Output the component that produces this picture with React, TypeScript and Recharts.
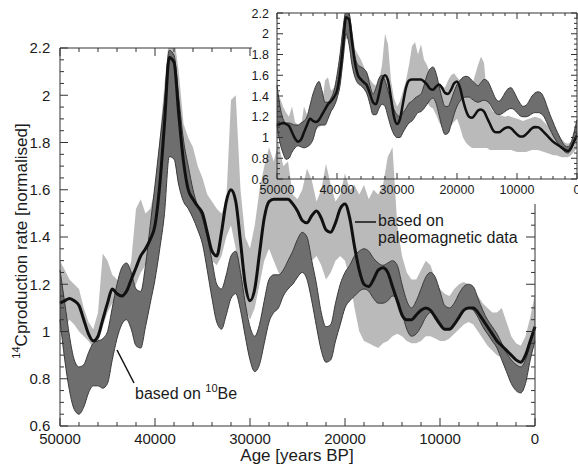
import { ComposedChart, Area, Line, XAxis, YAxis, ReferenceLine } from 'recharts';

const FONT = '"Liberation Sans", Arial, Helvetica, sans-serif';
const AXIS = '#333333';
const INK = '#1b1b1b';
const LIGHT = '#bababa';
const DARK = '#6e6e6e';
const DARK_EDGE = '#3a3a3a';

// years BP, sampled every 500 years
const ages = [
  50000, 49500, 49000, 48500, 48000, 47500, 47000, 46500, 46000, 45500,
  45000, 44500, 44000, 43500, 43000, 42500, 42000, 41500, 41000, 40500,
  40000, 39500, 39000, 38500, 38000, 37500, 37000, 36500, 36000, 35500,
  35000, 34500, 34000, 33500, 33000, 32500, 32000, 31500, 31000, 30500,
  30000, 29500, 29000, 28500, 28000, 27500, 27000, 26500, 26000, 25500,
  25000, 24500, 24000, 23500, 23000, 22500, 22000, 21500, 21000, 20500,
  20000, 19500, 19000, 18500, 18000, 17500, 17000, 16500, 16000, 15500,
  15000, 14500, 14000, 13500, 13000, 12500, 12000, 11500, 11000, 10500,
  10000, 9500, 9000, 8500, 8000, 7500, 7000, 6500, 6000, 5500,
  5000, 4500, 4000, 3500, 3000, 2500, 2000, 1500, 1000, 500,
  0,
];

// black curve: based on paleomagnetic data (same in both panels)
const paleoLine = [
  1.12, 1.13, 1.14, 1.13, 1.11, 1.05, 0.99, 0.96, 0.98, 1.05,
  1.12, 1.18, 1.16, 1.15, 1.17, 1.22, 1.27, 1.32, 1.35, 1.39,
  1.45, 1.62, 1.88, 2.16, 2.14, 1.92, 1.72, 1.60, 1.56, 1.53,
  1.50, 1.42, 1.34, 1.32, 1.42, 1.55, 1.60, 1.55, 1.38, 1.20,
  1.13, 1.18, 1.33, 1.48, 1.55, 1.56, 1.56, 1.56, 1.56, 1.54,
  1.51, 1.47, 1.46, 1.49, 1.51, 1.48, 1.43, 1.42, 1.46, 1.52,
  1.54, 1.48, 1.36, 1.26, 1.20, 1.19, 1.22, 1.26, 1.27, 1.25,
  1.19, 1.13, 1.07, 1.05, 1.05, 1.07, 1.09, 1.10, 1.09, 1.06,
  1.03, 1.01, 1.01, 1.03, 1.06, 1.09, 1.10, 1.10, 1.08, 1.05,
  1.02, 0.99, 0.96, 0.94, 0.92, 0.90, 0.88, 0.87, 0.90, 0.96,
  1.02,
];

// main panel, dark band: based on 10Be
const beLow = [
  1.05, 0.88, 0.75, 0.67, 0.65, 0.68, 0.74, 0.77, 0.77, 0.76,
  0.78, 0.88, 0.97, 1.03, 1.05, 1.01, 0.94, 0.93, 1.02, 1.12,
  1.22, 1.35, 1.50, 1.74, 1.73, 1.62, 1.55, 1.52, 1.48, 1.43,
  1.37, 1.26, 1.14, 1.04, 1.01, 1.07, 1.14, 1.16, 1.09, 0.98,
  0.88, 0.83, 0.86, 0.95, 1.04, 1.08, 1.10, 1.15, 1.18, 1.20,
  1.23, 1.25, 1.22, 1.13, 1.02, 0.92, 0.87, 0.88, 0.96, 1.03,
  1.10, 1.13, 1.15, 1.17, 1.18, 1.17, 1.14, 1.12, 1.12, 1.13,
  1.15, 1.14, 1.08, 1.01, 0.98, 0.99, 1.02, 1.06, 1.08, 1.07,
  1.04, 1.01, 1.01, 1.03, 1.06, 1.09, 1.10, 1.09, 1.06, 1.02,
  0.99, 0.96, 0.93, 0.88, 0.83, 0.78, 0.75, 0.74, 0.78, 0.88,
  0.96,
];
const beHigh = [
  1.26, 1.12, 0.98, 0.88, 0.85, 0.86, 0.91, 0.95, 0.96, 0.97,
  1.00, 1.10, 1.20, 1.27, 1.29, 1.25, 1.18, 1.17, 1.28, 1.45,
  1.62, 1.80, 1.98, 2.19, 2.17, 1.99, 1.81, 1.70, 1.60, 1.53,
  1.48, 1.40, 1.30, 1.20, 1.18, 1.24, 1.32, 1.34, 1.25, 1.12,
  1.02, 0.98, 1.03, 1.13, 1.22, 1.24, 1.24, 1.26, 1.30, 1.34,
  1.39, 1.42, 1.40, 1.30, 1.20, 1.08, 1.02, 1.03, 1.12, 1.20,
  1.25, 1.28, 1.32, 1.34, 1.35, 1.34, 1.31, 1.29, 1.28, 1.29,
  1.30, 1.28, 1.20, 1.13, 1.10, 1.13, 1.18, 1.23, 1.25, 1.23,
  1.17, 1.11, 1.10, 1.12, 1.16, 1.19, 1.20, 1.19, 1.14, 1.09,
  1.05, 1.02, 0.99, 0.95, 0.91, 0.88, 0.86, 0.85, 0.88, 0.95,
  1.02,
];

// main panel, light band: paleomagnetic uncertainty
const paleoLow = [
  1.00, 1.02, 1.05, 1.03, 1.00, 0.98, 0.96, 0.93, 0.95, 1.02,
  1.08, 1.12, 1.12, 1.10, 1.10, 1.14, 1.20, 1.25, 1.28, 1.33,
  1.38, 1.52, 1.70, 1.95, 1.95, 1.75, 1.60, 1.52, 1.48, 1.45,
  1.40, 1.35, 1.30, 1.28, 1.32, 1.40, 1.45, 1.35, 1.22, 1.10,
  1.05, 1.10, 1.20, 1.30, 1.35, 1.30, 1.25, 1.22, 1.28, 1.30,
  1.28, 1.25, 1.28, 1.30, 1.32, 1.28, 1.22, 1.25, 1.30, 1.32,
  1.30, 1.22, 1.10, 1.00, 0.96, 0.95, 0.94, 0.93, 0.95, 0.96,
  0.98, 0.99, 0.98, 0.96, 0.95, 0.95, 0.96, 0.98, 0.98, 0.97,
  0.96, 0.96, 0.97, 0.99, 1.01, 1.03, 1.04, 1.03, 1.00, 0.97,
  0.94, 0.92, 0.90, 0.89, 0.87, 0.85, 0.84, 0.84, 0.86, 0.92,
  0.97,
];
const paleoHigh = [
  1.30, 1.26, 1.22, 1.20, 1.18, 1.10, 1.04, 1.01, 1.08, 1.33,
  1.30, 1.24, 1.22, 1.20, 1.22, 1.30, 1.52, 1.56, 1.50, 1.52,
  1.60, 1.82, 2.05, 2.25, 2.25, 2.10, 1.88, 1.82, 1.78, 1.70,
  1.65, 1.58, 1.55, 1.52, 1.50, 1.55, 1.98, 2.00, 1.60, 1.40,
  1.35, 1.45, 1.60, 1.70, 1.78, 1.72, 1.80, 1.70, 1.72, 1.58,
  1.56, 1.60, 1.69, 1.64, 1.55, 1.60, 1.71, 1.62, 1.55, 1.58,
  1.67, 1.60, 1.62, 1.58, 1.62, 1.56, 1.60, 1.58, 1.62, 1.74,
  1.78, 1.45, 1.32, 1.25, 1.22, 1.22, 1.26, 1.30, 1.28, 1.22,
  1.18, 1.16, 1.15, 1.18, 1.20, 1.21, 1.20, 1.18, 1.15, 1.12,
  1.10, 1.08, 1.08, 1.10, 1.04, 0.98, 0.95, 0.94, 0.98, 1.06,
  1.16,
];

// inset panel, dark band
const insetBeLow = [
  1.12, 0.95, 0.85, 0.79, 0.80, 0.86, 0.90, 0.92, 0.91, 0.90,
  0.91, 0.93, 0.98, 1.08, 1.12, 1.12, 1.12, 1.18, 1.25, 1.30,
  1.38, 1.50, 1.75, 2.00, 1.90, 1.70, 1.58, 1.52, 1.50, 1.47,
  1.42, 1.32, 1.22, 1.22, 1.28, 1.32, 1.30, 1.20, 1.10, 1.03,
  1.00, 1.00, 1.05, 1.10, 1.14, 1.16, 1.20, 1.24, 1.25, 1.28,
  1.32, 1.36, 1.38, 1.33, 1.22, 1.10, 1.03, 1.04, 1.12, 1.22,
  1.30, 1.35, 1.38, 1.39, 1.39, 1.37, 1.35, 1.34, 1.35, 1.36,
  1.35, 1.32, 1.27, 1.23, 1.22, 1.23, 1.25, 1.27, 1.28, 1.27,
  1.24, 1.21, 1.20, 1.20, 1.21, 1.23, 1.24, 1.24, 1.23, 1.20,
  1.14, 1.08, 1.02, 0.97, 0.93, 0.89, 0.86, 0.85, 0.88, 0.95,
  1.04,
];
const insetBeHigh = [
  1.50, 1.30, 1.18, 1.14, 1.14, 1.13, 1.12, 1.12, 1.14, 1.16,
  1.20, 1.31, 1.42, 1.50, 1.54, 1.45, 1.34, 1.34, 1.38, 1.45,
  1.60, 1.80, 2.05, 2.22, 2.20, 2.00, 1.78, 1.70, 1.68, 1.66,
  1.62, 1.50, 1.42, 1.48, 1.57, 1.60, 1.55, 1.45, 1.35, 1.27,
  1.22, 1.20, 1.24, 1.28, 1.33, 1.35, 1.38, 1.40, 1.42, 1.50,
  1.60, 1.66, 1.68, 1.62, 1.50, 1.38, 1.30, 1.30, 1.36, 1.44,
  1.51, 1.55, 1.58, 1.59, 1.58, 1.55, 1.52, 1.50, 1.53, 1.56,
  1.55, 1.50, 1.43, 1.37, 1.35, 1.38, 1.43, 1.47, 1.48, 1.44,
  1.38, 1.33, 1.30, 1.31, 1.35, 1.40, 1.43, 1.44, 1.43, 1.38,
  1.30, 1.22, 1.15, 1.08, 1.02, 0.96, 0.92, 0.91, 0.95, 1.05,
  1.17,
];

// inset panel, light band
const insetPaleoLow = [
  1.00, 0.97, 0.95, 0.92, 0.90, 0.92, 0.93, 0.93, 0.93, 0.96,
  1.00, 1.03, 1.05, 1.08, 1.10, 1.12, 1.15, 1.20, 1.25, 1.30,
  1.35, 1.50, 1.70, 1.95, 1.95, 1.72, 1.60, 1.55, 1.50, 1.46,
  1.42, 1.36, 1.30, 1.28, 1.32, 1.40, 1.45, 1.35, 1.20, 1.08,
  1.02, 1.05, 1.15, 1.25, 1.30, 1.32, 1.35, 1.36, 1.35, 1.35,
  1.34, 1.30, 1.28, 1.22, 1.15, 1.10, 1.05, 1.08, 1.12, 1.15,
  1.18, 1.10, 1.00, 0.95, 0.92, 0.90, 0.90, 0.90, 0.90, 0.90,
  0.90, 0.88, 0.88, 0.88, 0.88, 0.88, 0.88, 0.88, 0.88, 0.87,
  0.86, 0.86, 0.86, 0.86, 0.87, 0.88, 0.88, 0.88, 0.87, 0.86,
  0.85, 0.84, 0.83, 0.83, 0.82, 0.81, 0.81, 0.81, 0.83, 0.86,
  0.90,
];
const insetPaleoHigh = [
  1.45, 1.38, 1.30, 1.24, 1.20, 1.30, 1.15, 1.12, 1.10, 1.30,
  1.22, 1.20, 1.20, 1.28, 1.32, 1.30, 1.55, 1.58, 1.45, 1.48,
  1.55, 1.80, 2.05, 2.22, 2.22, 2.05, 1.85, 1.80, 1.75, 1.68,
  1.62, 1.56, 1.52, 1.50, 1.55, 1.70, 2.00, 1.90, 1.55, 1.38,
  1.30, 1.35, 1.45, 1.55, 1.70, 1.88, 1.92, 1.80, 1.90, 1.75,
  1.70, 1.62, 1.58, 1.55, 1.52, 1.50, 1.48, 1.55, 1.60, 1.62,
  1.58, 1.55, 1.50, 1.45, 1.45, 1.50, 1.60, 1.70, 1.78, 1.72,
  1.40, 1.30, 1.25, 1.23, 1.22, 1.21, 1.20, 1.21, 1.20, 1.19,
  1.18, 1.17, 1.16, 1.17, 1.18, 1.19, 1.20, 1.19, 1.18, 1.15,
  1.12, 1.10, 1.08, 1.05, 1.02, 0.98, 0.95, 0.94, 0.96, 1.02,
  1.08,
];

const xTickLabels = [50000, 40000, 30000, 20000, 10000, 0];
const yTickLabels = [0.6, 0.8, 1, 1.2, 1.4, 1.6, 1.8, 2, 2.2];
// minor ticks every 2000 years and every 0.05
const xTicks = Array.from({ length: 26 }, (_, i) => i * 2000);
const yTicks = Array.from({ length: 33 }, (_, i) => Math.round((0.6 + i * 0.05) * 100) / 100);

const mainData = ages.map((age, i) => ({
  age,
  line: paleoLine[i],
  be: [beLow[i], beHigh[i]],
  paleo: [paleoLow[i], paleoHigh[i]],
}));

const insetData = ages.map((age, i) => ({
  age,
  line: paleoLine[i],
  be: [insetBeLow[i], insetBeHigh[i]],
  paleo: [insetPaleoLow[i], insetPaleoHigh[i]],
}));

type Side = 'left' | 'right' | 'top' | 'bottom';

const isMajorY = (v: number) => yTickLabels.some(t => Math.abs(t - v) < 1e-6);

function makeTick(side: Side, majorLen: number, minorLen: number, fontSize: number, labels: boolean, show?: (v: number) => boolean) {
  return (props: any) => {
    const { x, y, payload } = props;
    const v = payload.value as number;
    if (show && !show(v)) return <g />;
    const vertical = side === 'left' || side === 'right';
    const major = vertical ? isMajorY(v) : xTickLabels.includes(v);
    const len = major ? majorLen : minorLen;
    let x2 = x;
    let y2 = y;
    if (side === 'bottom') y2 = y - len;
    if (side === 'top') y2 = y + len;
    if (side === 'left') x2 = x + len;
    if (side === 'right') x2 = x - len;
    let label = null;
    if (labels && major) {
      const txt = vertical ? String(Number(v.toFixed(1))) : String(v);
      label = side === 'left'
        ? <text x={x - fontSize * 0.65} y={y + fontSize * 0.36} textAnchor="end" fontSize={fontSize} fill={INK} fontFamily={FONT}>{txt}</text>
        : <text x={x} y={y + fontSize * 1.2} textAnchor="middle" fontSize={fontSize} fill={INK} fontFamily={FONT}>{txt}</text>;
    }
    return (
      <g>
        <line x1={x} y1={y} x2={x2} y2={y2} stroke={AXIS} strokeWidth={1} />
        {label}
      </g>
    );
  };
}

function MainChart() {
  return (
    <ComposedChart width={578} height={470} data={mainData} margin={{ top: 38, right: 33, bottom: 14, left: 0 }}>
      <XAxis dataKey="age" type="number" domain={[0, 50000]} reversed ticks={xTicks} interval={0}
        height={30} tickSize={0} tickMargin={0} axisLine={{ stroke: AXIS }} tickLine={false}
        tick={makeTick('bottom', 8, 4, 15, true)} />
      <XAxis xAxisId="top" dataKey="age" type="number" orientation="top" domain={[0, 50000]} reversed ticks={xTicks} interval={0}
        height={10} tickSize={0} tickMargin={0} axisLine={false} tickLine={false}
        tick={makeTick('top', 8, 4, 15, false, v => v >= 30000)} />
      <YAxis type="number" domain={[0.6, 2.2]} allowDataOverflow ticks={yTicks} interval={0}
        width={60} tickSize={0} tickMargin={0} axisLine={{ stroke: AXIS }} tickLine={false}
        tick={makeTick('left', 8, 4, 15, true)} />
      <YAxis yAxisId="right" orientation="right" type="number" domain={[0.6, 2.2]} allowDataOverflow ticks={yTicks} interval={0}
        width={10} tickSize={0} tickMargin={0} axisLine={false} tickLine={false}
        tick={makeTick('right', 9, 4, 15, false, v => v <= 1.5)} />
      <Area dataKey="paleo" type="linear" fill={LIGHT} fillOpacity={1} stroke="none" isAnimationActive={false} dot={false} activeDot={false} />
      <Area dataKey="be" type="monotone" fill={DARK} fillOpacity={1} stroke={DARK_EDGE} strokeWidth={1} isAnimationActive={false} dot={false} activeDot={false} />
      <Line dataKey="line" type="monotone" stroke="#111" strokeWidth={3} dot={false} activeDot={false} isAnimationActive={false} />
      <ReferenceLine segment={[{ x: 50000, y: 2.2 }, { x: 29800, y: 2.2 }]} stroke={AXIS} strokeWidth={1} />
      <ReferenceLine segment={[{ x: 0, y: 0.6 }, { x: 0, y: 1.54 }]} stroke={AXIS} strokeWidth={1} />
    </ComposedChart>
  );
}

function InsetChart() {
  return (
    <ComposedChart width={578} height={205} data={insetData} margin={{ top: 8, right: 0, bottom: 6, left: 247 }}>
      <XAxis dataKey="age" type="number" domain={[0, 50000]} reversed ticks={xTicks} interval={0}
        height={20} tickSize={0} tickMargin={0} axisLine={{ stroke: AXIS }} tickLine={false}
        tick={makeTick('bottom', 6, 3, 12.5, true)} />
      <XAxis xAxisId="top" dataKey="age" type="number" orientation="top" domain={[0, 50000]} reversed ticks={xTicks} interval={0}
        height={5} tickSize={0} tickMargin={0} axisLine={{ stroke: AXIS }} tickLine={false}
        tick={makeTick('top', 6, 3, 12.5, false)} />
      <YAxis type="number" domain={[0.6, 2.2]} allowDataOverflow ticks={yTicks} interval={0}
        width={30} tickSize={0} tickMargin={0} axisLine={{ stroke: AXIS }} tickLine={false}
        tick={makeTick('left', 6, 3, 12.5, true)} />
      <YAxis yAxisId="right" orientation="right" type="number" domain={[0.6, 2.2]} allowDataOverflow ticks={yTicks} interval={0}
        width={1} tickSize={0} tickMargin={0} axisLine={{ stroke: AXIS }} tickLine={false}
        tick={makeTick('right', 6, 3, 12.5, false)} />
      <Area dataKey="paleo" type="linear" fill={LIGHT} fillOpacity={1} stroke="none" isAnimationActive={false} dot={false} activeDot={false} />
      <Area dataKey="be" type="monotone" fill={DARK} fillOpacity={1} stroke={DARK_EDGE} strokeWidth={1} isAnimationActive={false} dot={false} activeDot={false} />
      <Line dataKey="line" type="monotone" stroke="#111" strokeWidth={2.5} dot={false} activeDot={false} isAnimationActive={false} />
    </ComposedChart>
  );
}

export default function App() {
  return (
    <div style={{ position: 'absolute', left: 0, top: 0, width: 578, height: 470, background: '#fff', fontFamily: FONT }}>
      <div style={{ position: 'absolute', left: 0, top: 0 }}>
        <MainChart />
      </div>
      <div style={{ position: 'absolute', left: 0, top: 0 }}>
        <InsetChart />
      </div>
      <svg width={578} height={470} style={{ position: 'absolute', left: 0, top: 0, pointerEvents: 'none' }}>
        <text transform="translate(27,241) rotate(-90)" textAnchor="middle" fontSize={17} fill={INK} fontFamily={FONT}>
          <tspan fontSize={11} dy={-7}>14</tspan>
          <tspan dy={7}>Cproduction rate [normalised]</tspan>
        </text>
        <text x={297} y={461} textAnchor="middle" fontSize={17} fill={INK} fontFamily={FONT}>Age [years BP]</text>
        <line x1={355} y1={222} x2={376} y2={222} stroke="#111" strokeWidth={1.5} />
        <text x={378} y={226} fontSize={16} fill={INK} fontFamily={FONT}>based on</text>
        <text x={378} y={243} fontSize={16} fill={INK} fontFamily={FONT}>paleomagnetic data</text>
        <line x1={117} y1={350} x2={134} y2={383} stroke="#111" strokeWidth={1.5} />
        <text x={135} y={399} fontSize={16} fill={INK} fontFamily={FONT}>
          based on <tspan fontSize={11} dy={-7}>10</tspan><tspan dy={7}>Be</tspan>
        </text>
      </svg>
    </div>
  );
}
